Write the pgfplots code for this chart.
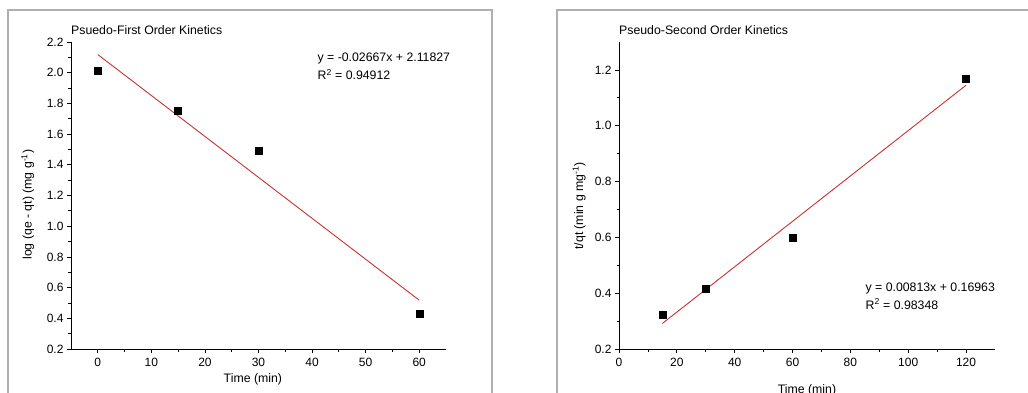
\documentclass[border=0pt]{standalone}
\usepackage{pgfplots}
\pgfplotsset{compat=1.18}
\usepackage{fontspec}
\setmainfont{Liberation Sans}
\definecolor{fitred}{RGB}{200,50,50}
\definecolor{framegray}{RGB}{175,175,175}
\newcommand{\tf}{\fontsize{12.3}{14}\selectfont}
\pgfplotsset{
  kin/.style={
    scale only axis,
    anchor=south west,
    axis x line*=bottom,
    axis y line*=left,
    tick align=outside,
    minor tick num=1,
    major tick length=4pt,
    minor tick length=2.5pt,
    every tick/.style={black, line width=0.8pt},
    axis line style={black, line width=0.9pt},
    tick label style={font=\fontsize{12}{14}\selectfont},
    label style={font=\tf},
    /pgf/number format/assume math mode=true,
    clip=false,
    xticklabel style={yshift=-2pt},
  }
}
\begin{document}
\begin{tikzpicture}
\useasboundingbox (0pt,0pt) rectangle (1028pt,392pt);
\fill[white] (0pt,0pt) rectangle (1028pt,392pt);
\draw[framegray, line width=1.3pt] (8pt,-10pt) -- (8pt,382pt) -- (492pt,382pt) -- (492pt,-10pt);
\draw[framegray, line width=1.3pt] (557pt,-10pt) -- (557pt,382pt) -- (1040pt,382pt);

\begin{axis}[kin,
  at={(71pt,43pt)}, width=375pt, height=307pt,
  xmin=-5, xmax=65, ymin=0.2, ymax=2.2,
  xtick={0,10,...,60}, ytick={0.2,0.4,...,2.2},
  yticklabel style={/pgf/number format/.cd, fixed, fixed zerofill, precision=1},
  xlabel={Time (min)},
  ylabel={log (qe - qt) (mg g\textsuperscript{-1})},
  xlabel style={at={(axis description cs:0.485,0)}, anchor=center, yshift=-30pt},
  ylabel style={at={(axis description cs:-0.115,0.47)}, anchor=center},
]
\addplot[fitred, line width=0.9pt, no marks] coordinates {(0,2.11827) (60,0.51807)};
\addplot[only marks, mark=square*, mark size=3.5pt, black] coordinates {
(0,2.013) (15,1.75) (30,1.49) (60,0.428)};
\node[anchor=base west, inner sep=0pt, font=\tf] at (axis cs:41,2.07) {y = -0.02667x + 2.11827};
\node[anchor=base west, inner sep=0pt, font=\tf] at (axis cs:41,1.955) {R\textsuperscript{2} = 0.94912};
\node[anchor=base west, inner sep=0pt, font=\tf] at (rel axis cs:0,1) [yshift=8pt] {Psuedo-First Order Kinetics};
\end{axis}

\begin{axis}[kin,
  at={(619pt,43pt)}, width=376pt, height=307pt,
  xmin=0, xmax=130, ymin=0.2, ymax=1.3,
  xtick={0,20,...,120}, ytick={0.2,0.4,...,1.2},
  yticklabel style={/pgf/number format/.cd, fixed, fixed zerofill, precision=1},
  xlabel={Time (min)},
  ylabel={t/qt (min g mg\textsuperscript{-1})},
  xlabel style={at={(axis description cs:0.5,0)}, anchor=center, yshift=-41pt},
  ylabel style={at={(axis description cs:-0.106,0.466)}, anchor=center},
]
\addplot[fitred, line width=0.9pt, no marks] coordinates {(15,0.29158) (120,1.14523)};
\addplot[only marks, mark=square*, mark size=3.5pt, black] coordinates {
(15,0.322) (30,0.417) (60,0.599) (120,1.168)};
\node[anchor=base west, inner sep=0pt, font=\tf] at (axis cs:85.2,0.407) {y = 0.00813x + 0.16963};
\node[anchor=base west, inner sep=0pt, font=\tf] at (axis cs:85.2,0.343) {R\textsuperscript{2} = 0.98348};
\node[anchor=base west, inner sep=0pt, font=\tf] at (rel axis cs:0,1) [yshift=8pt] {Pseudo-Second Order Kinetics};
\end{axis}
\end{tikzpicture}
\end{document}
